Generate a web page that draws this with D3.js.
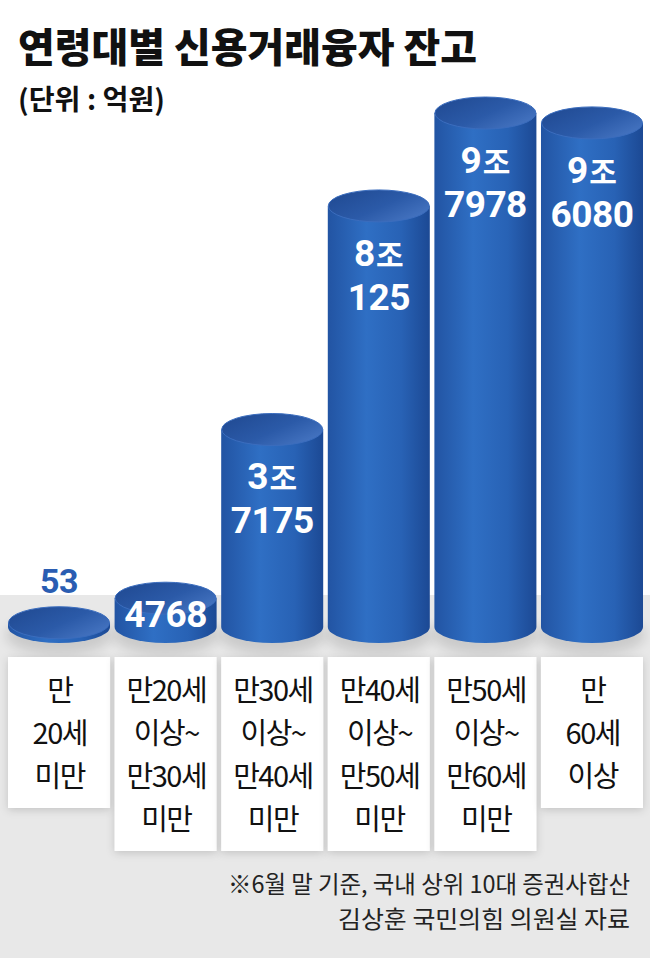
<!DOCTYPE html>
<html>
<head>
<meta charset="utf-8">
<script src="https://cdn.jsdelivr.net/npm/d3@7"></script>
<style>
  html, body { margin: 0; padding: 0; background: #fff; }
  svg { display: block; }
</style>
</head>
<body>
<div class="canvas"></div>
<script>
const categories = ["u20", "20s", "30s", "40s", "50s", "60p"];
const labelLines = [
  ["만", "20세", "미만"],
  ["만20세", "이상~", "만30세", "미만"],
  ["만30세", "이상~", "만40세", "미만"],
  ["만40세", "이상~", "만50세", "미만"],
  ["만50세", "이상~", "만60세", "미만"],
  ["만", "60세", "이상"]
];
const values = [53, 4768, 37175, 80125, 97978, 96080]; // 억원
const title = "연령대별 신용거래융자 잔고";
const subtitle = "(단위 : 억원)";
const notes = ["※6월 말 기준, 국내 상위 10대 증권사합산", "김상훈 국민의힘 의원실 자료"];

const W = 650, H = 958;
const baseY = 627;   // centre of the bottom ellipse
const ry = 16;
const grayTop = 595;
const numFont = "Roboto, 'Noto Sans CJK KR'";

const svg = d3.select(".canvas").append("svg").attr("width", W).attr("height", H);
const defs = svg.append("defs");

// gradients
const bodyGrad = defs.append("linearGradient").attr("id", "body").attr("x1", 0).attr("x2", 1).attr("y1", 0).attr("y2", 0);
[["0%", "#2254a3"], ["38%", "#2f6fc4"], ["72%", "#2862b5"], ["100%", "#1c4994"]].forEach((s) =>
  bodyGrad.append("stop").attr("offset", s[0]).attr("stop-color", s[1]));
const topGrad = defs.append("linearGradient").attr("id", "top").attr("x1", 0).attr("x2", 1).attr("y1", 0).attr("y2", 0.7);
[["0%", "#1f4890"], ["60%", "#2b5aa8"], ["100%", "#4473c0"]].forEach((s) =>
  topGrad.append("stop").attr("offset", s[0]).attr("stop-color", s[1]));

const shadow = defs.append("filter").attr("id", "shadow").attr("x", "-20%").attr("y", "-20%").attr("width", "140%").attr("height", "140%");
shadow.append("feDropShadow").attr("dx", 0).attr("dy", 2).attr("stdDeviation", 4)
  .attr("flood-color", "#000").attr("flood-opacity", 0.16);
const blur = defs.append("filter").attr("id", "blur").attr("x", "-30%").attr("y", "-100%").attr("width", "160%").attr("height", "300%");
blur.append("feGaussianBlur").attr("stdDeviation", 6);

// background
svg.append("rect").attr("width", W).attr("height", H).attr("fill", "#fff");
svg.append("rect").attr("y", grayTop).attr("width", W).attr("height", H - grayTop).attr("fill", "#e8e8e8");

// title
svg.append("text").attr("x", 18).attr("y", 62).text(title)
  .attr("font-family", "Noto Sans CJK KR").attr("font-weight", 900).attr("font-size", 40)
  .attr("fill", "#111").attr("textLength", 459).attr("lengthAdjust", "spacingAndGlyphs");
svg.append("text").attr("x", 18).attr("y", 110).text(subtitle)
  .attr("font-family", "Noto Sans CJK KR").attr("font-weight", 700).attr("font-size", 28)
  .attr("fill", "#111").attr("textLength", 147).attr("lengthAdjust", "spacingAndGlyphs");

const x = d3.scaleBand().domain(categories).range([8, 643]).paddingInner(0.043).paddingOuter(0);
const h = d3.scaleLinear().domain([0, d3.max(values)]).range([4, 514]);
const rx = x.bandwidth() / 2;

const data = categories.map((c, i) => ({ key: c, value: values[i], lines: labelLines[i] }));

// soft shadow under cylinders
svg.append("g").selectAll("ellipse").data(data).join("ellipse")
  .attr("cx", (d) => x(d.key) + rx).attr("cy", baseY + 8)
  .attr("rx", rx + 2).attr("ry", ry + 4)
  .attr("fill", "#000").attr("opacity", 0.12).attr("filter", "url(#blur)");

// category boxes
const boxes = svg.append("g").selectAll("g").data(data).join("g");
boxes.append("rect")
  .attr("x", (d) => x(d.key)).attr("y", 657)
  .attr("width", x.bandwidth())
  .attr("height", (d) => 65 + (d.lines.length - 1) * 43)
  .attr("fill", "#fff").attr("filter", "url(#shadow)");
boxes.append("text")
  .attr("text-anchor", "middle")
  .attr("font-family", "Noto Sans CJK KR").attr("font-size", 29).attr("font-weight", 400)
  .attr("letter-spacing", -1.5).attr("fill", "#111")
  .selectAll("tspan").data((d) => d.lines.map((t) => ({ t, cx: x(d.key) + rx + 0.75 }))).join("tspan")
  .attr("x", (l) => l.cx)
  .attr("y", (l, j) => 701 + j * 43)
  .text((l) => l.t);

// cylinders
const cyl = svg.append("g").selectAll("g").data(data).join("g");
cyl.append("path")
  .attr("d", (d) => {
    const x0 = x(d.key), x1 = x0 + x.bandwidth(), ty = baseY - h(d.value);
    return `M${x0},${ty} L${x0},${baseY} A${rx},${ry} 0 0 0 ${x1},${baseY} L${x1},${ty} Z`;
  })
  .attr("fill", "url(#body)");
cyl.append("ellipse")
  .attr("cx", (d) => x(d.key) + rx).attr("cy", (d) => baseY - h(d.value))
  .attr("rx", rx - 0.5).attr("ry", ry)
  .attr("fill", "url(#top)").attr("stroke", "#3b6dbe").attr("stroke-width", 1);

// value labels
cyl.each(function (d) {
  const g = d3.select(this);
  const cx = x(d.key) + rx;
  const ty = baseY - h(d.value);
  const txt = (y, fill) => g.append("text").attr("x", cx).attr("y", y).attr("text-anchor", "middle")
    .attr("font-family", numFont).attr("font-weight", 700).attr("fill", fill);
  if (d.value >= 10000) {
    const t = txt(ty + 60, "#fff").attr("font-size", 37);
    t.append("tspan").text(Math.floor(d.value / 10000));
    t.append("tspan").attr("font-family", "Noto Sans CJK KR").attr("font-size", 30).attr("dx", 1).text("조");
    t.append("tspan").attr("x", cx).attr("y", ty + 104).attr("letter-spacing", -0.5).text(d.value % 10000);
  } else if (h(d.value) < 20) {
    txt(ty - 30, "#2a5db2").attr("font-size", 34).attr("letter-spacing", -0.5).text(d.value);
  } else {
    txt(baseY, "#fff").attr("font-size", 37).attr("letter-spacing", -0.5).text(d.value);
  }
});

// notes
const noteWidths = [402, 292];
notes.forEach((n, i) => {
  svg.append("text").attr("x", 630).attr("y", 893 + i * 35).attr("text-anchor", "end").text(n)
    .attr("font-family", "Noto Sans CJK KR").attr("font-size", 24).attr("fill", "#222")
    .attr("textLength", noteWidths[i]).attr("lengthAdjust", "spacingAndGlyphs");
});
</script>
</body>
</html>
